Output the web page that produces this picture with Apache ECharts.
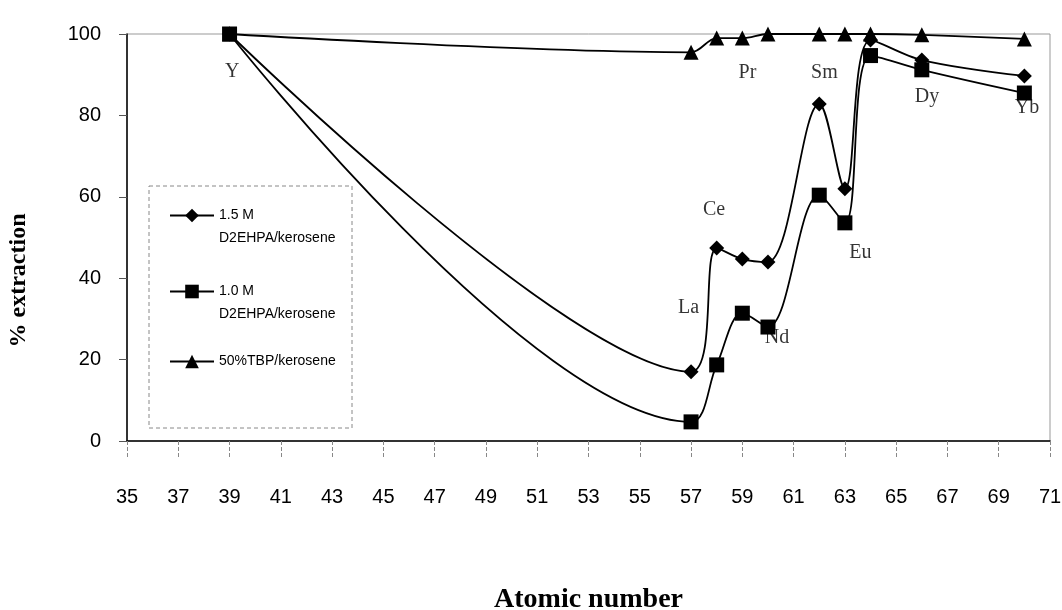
<!DOCTYPE html>
<html>
<head>
<meta charset="utf-8">
<script src="https://cdn.jsdelivr.net/npm/echarts@6/dist/echarts.min.js"></script>
<style>
  html, body { margin: 0; padding: 0; background: #fff; }
  #chart { width: 1062px; height: 610px; }
</style>
</head>
<body>
<div id="chart"></div>
<script>
// atomic numbers of the measured elements
var atomicNumbers = [39, 57, 58, 59, 60, 62, 63, 64, 66, 70];
// % extraction per system
var d2ehpa15 = [100, 17, 47.4, 44.7, 44, 82.8, 62, 98.5, 93.6, 89.7];
var d2ehpa10 = [100, 4.7, 18.7, 31.4, 28, 60.4, 53.6, 94.7, 91.2, 85.5];
var tbp50 = [100, 95.5, 99, 99, 100, 100, 100, 100, 99.8, 98.8];

// element name annotations (x = atomic number, y = % extraction where the name sits)
var elementNames = ['Y', 'La', 'Ce', 'Pr', 'Nd', 'Sm', 'Eu', 'Dy', 'Yb'];
var elementX = [39.1, 56.9, 57.9, 59.2, 60.35, 62.2, 63.6, 66.2, 70.1];
var elementY = [90.7, 32.7, 56.8, 90.4, 25.3, 90.4, 46.2, 84.5, 81.8];

var seriesNames = ['\n1.5 M\nD2EHPA/kerosene', '\n1.0 M\nD2EHPA/kerosene', '50%TBP/kerosene'];

function pairs(xs, ys) {
    var out = [];
    for (var i = 0; i < xs.length; i++) out.push([xs[i], ys[i]]);
    return out;
}

var labelData = [];
for (var i = 0; i < elementNames.length; i++) {
    labelData.push({name: elementNames[i], value: [elementX[i], elementY[i]]});
}

var lineStyle = {color: '#000', width: 1.8};
var legendText = {fontFamily: 'Liberation Sans', fontSize: 14, color: '#000', lineHeight: 23};
var legendBase = {left: 169, padding: 0, itemWidth: 44, itemHeight: 17, textStyle: legendText};

var myChart = echarts.init(document.getElementById('chart'));
var option = {
    backgroundColor: '#fff',
    animation: false,
    grid: {
        left: 127, right: 12, top: 34, bottom: 169,
        containLabel: false, outerBoundsMode: 'none',
        show: true, borderColor: '#999', borderWidth: 1
    },
    legend: [
        echarts.util.merge({data: [seriesNames[0]], top: 181}, legendBase),
        echarts.util.merge({data: [seriesNames[1]], top: 257}, legendBase),
        echarts.util.merge({data: [seriesNames[2]], top: 350}, legendBase)
    ],
    graphic: [{
        type: 'rect',
        shape: {x: 149, y: 186, width: 203, height: 242},
        style: {fill: 'none', stroke: '#888', lineWidth: 1, lineDash: [4, 3]},
        silent: true
    }],
    xAxis: {
        type: 'value',
        min: 35, max: 71, interval: 2,
        name: 'Atomic number',
        nameLocation: 'middle',
        nameGap: 145,
        nameTextStyle: {fontFamily: 'Liberation Serif', fontWeight: 'bold', fontSize: 28, color: '#000'},
        axisLine: {onZero: false, lineStyle: {color: '#000', width: 1.5}},
        axisTick: {length: 16, lineStyle: {color: '#888', type: 'dashed'}},
        axisLabel: {margin: 46, fontFamily: 'Liberation Sans', fontSize: 20, color: '#000'},
        splitLine: {show: false}
    },
    yAxis: {
        type: 'value',
        min: 0, max: 100, interval: 20,
        name: '% extraction',
        nameLocation: 'middle',
        nameGap: 96,
        // push the title down so it sits where the original has it
        nameTextStyle: {fontFamily: 'Liberation Serif', fontWeight: 'bold', fontSize: 24, color: '#000', padding: [0, 86, 0, 0]},
        axisLine: {show: true, lineStyle: {color: '#000', width: 1.5}},
        axisTick: {show: true, length: 8, lineStyle: {color: '#555'}},
        axisLabel: {margin: 26, fontFamily: 'Liberation Sans', fontSize: 20, color: '#000'},
        splitLine: {show: false}
    },
    series: [
        {
            name: seriesNames[0], type: 'line', smooth: 0.35, clip: false, z: 3,
            symbol: 'diamond', symbolSize: 15,
            itemStyle: {color: '#000'}, lineStyle: lineStyle,
            data: pairs(atomicNumbers, d2ehpa15)
        },
        {
            name: seriesNames[1], type: 'line', smooth: 0.35, clip: false, z: 4,
            symbol: 'rect', symbolSize: 15,
            itemStyle: {color: '#000'}, lineStyle: lineStyle,
            data: pairs(atomicNumbers, d2ehpa10)
        },
        {
            name: seriesNames[2], type: 'line', smooth: 0.35, clip: false, z: 2,
            symbol: 'triangle', symbolSize: 15,
            itemStyle: {color: '#000'}, lineStyle: lineStyle,
            data: pairs(atomicNumbers, tbp50)
        },
        {
            type: 'scatter', symbolSize: 0, z: 5, silent: true,
            label: {
                show: true, position: 'inside', formatter: '{b}',
                fontFamily: 'Liberation Serif', fontSize: 20, color: '#000'
            },
            data: labelData
        }
    ]
};
myChart.setOption(option);
</script>
</body>
</html>
